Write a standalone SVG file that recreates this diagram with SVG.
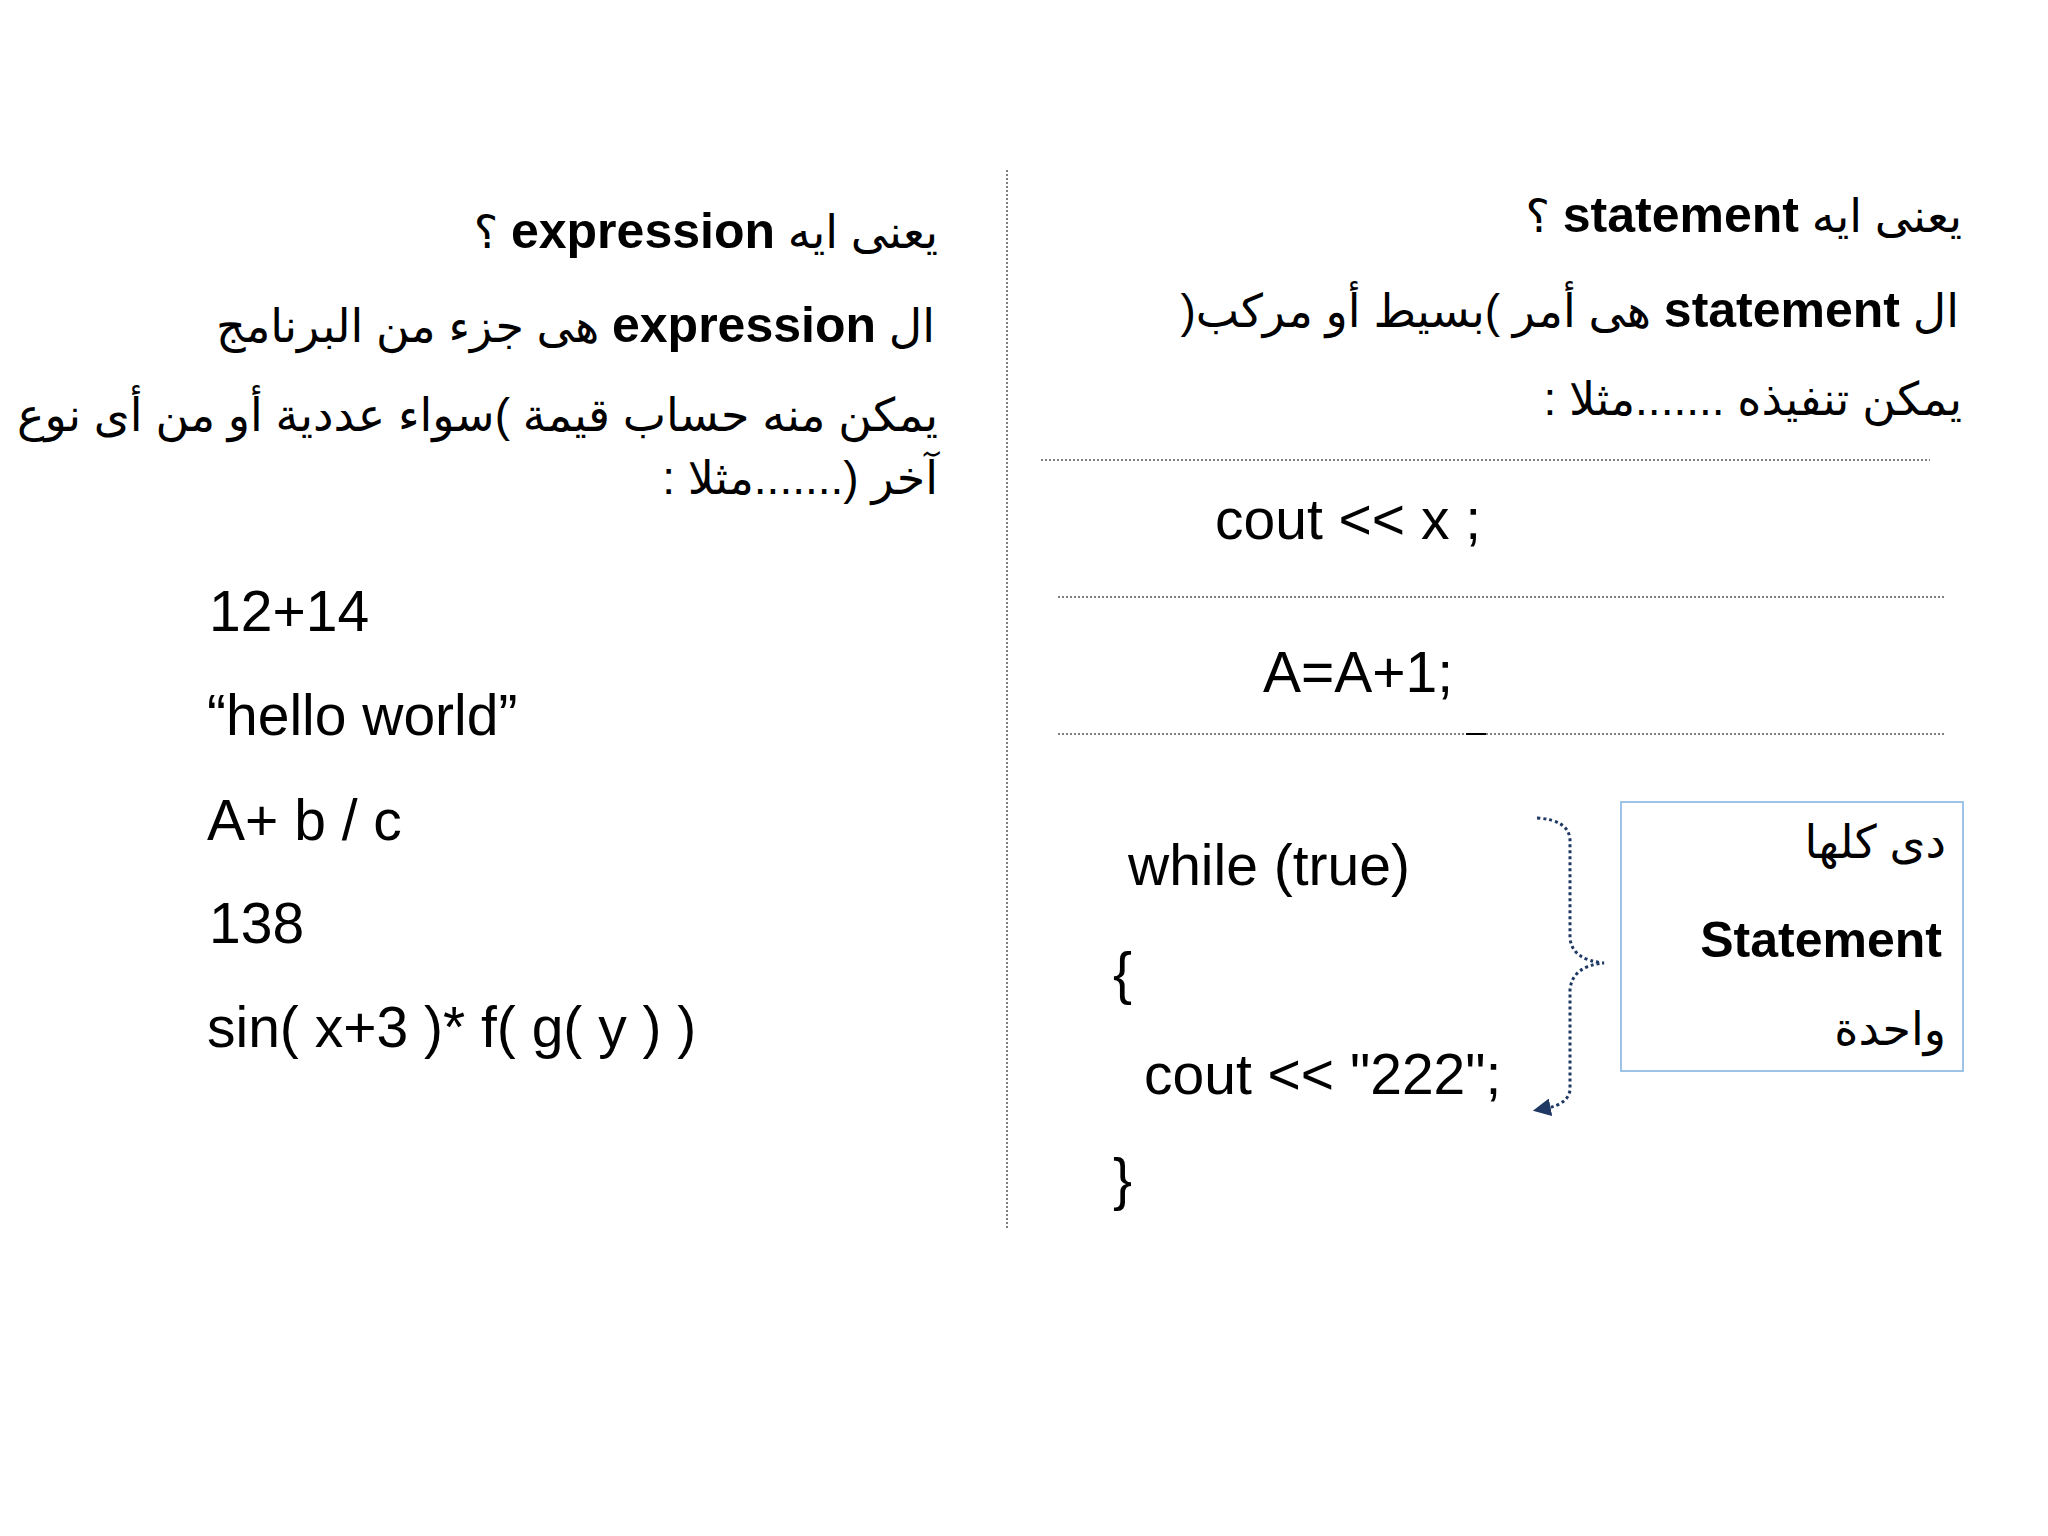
<svg xmlns="http://www.w3.org/2000/svg" width="2048" height="1536" viewBox="0 0 2048 1536">
<style>
.ar{font-family:"Liberation Sans","DejaVu Sans",sans-serif;font-size:46px;fill:#000;direction:rtl}
.b{font-weight:bold}
.code{font-family:"Liberation Sans",Arial,sans-serif;font-size:57px;fill:#000}
.dot{stroke:#555;stroke-width:1.5;stroke-dasharray:2 2;fill:none}
</style>
<defs>
<marker id="ah" viewBox="0 0 10 10" refX="2" refY="5" markerWidth="6" markerHeight="6" orient="auto-start-reverse">
<path d="M0,0 L10,5 L0,10 z" fill="#1f3864"/>
</marker>
</defs>
<rect width="2048" height="1536" fill="#fff"/>
<g id="divider"><line class="dot" x1="1007" y1="170" x2="1007" y2="1228" stroke="#4a6a9a"/></g>
<g id="left">
<text class="ar" x="938" y="248"><tspan>يعنى ايه </tspan><tspan class="b" font-size="50">expression</tspan><tspan>  ؟</tspan></text>
<text class="ar" x="935" y="342"><tspan>ال  </tspan><tspan class="b" font-size="50">expression</tspan><tspan> هى جزء من البرنامج</tspan></text>
<text class="ar" x="938" y="431">يمكن منه حساب قيمة )سواء عددية أو من أى نوع</text>
<text class="ar" x="938" y="494">آخر (.......مثلا :</text>
<text class="code" x="209" y="631">12+14</text>
<text class="code" x="207" y="735">“hello world”</text>
<text class="code" x="207" y="840">A+ b / c</text>
<text class="code" x="209" y="943">138</text>
<text class="code" x="207" y="1047">sin( x+3 )* f( g( y ) )</text>
</g>
<g id="right">
<text class="ar" x="1962" y="232"><tspan>يعنى ايه </tspan><tspan class="b" font-size="50">statement</tspan><tspan> ؟</tspan></text>
<text class="ar" x="1959" y="327"><tspan>ال </tspan><tspan class="b" font-size="50">statement</tspan><tspan>  هى أمر )بسيط أو مركب(</tspan></text>
<text class="ar" x="1962" y="415">يمكن تنفيذه .......مثلا :</text>
<line class="dot" x1="1041" y1="460" x2="1930" y2="460"/>
<text class="code" x="1215" y="539" font-size="52">cout &lt;&lt; x ;</text>
<line class="dot" x1="1058" y1="597" x2="1946" y2="597"/>
<text class="code" x="1263" y="692" font-size="52">A=A+1;</text>
<line class="dot" x1="1058" y1="734" x2="1946" y2="734"/>
<line x1="1466" y1="734" x2="1486" y2="734" stroke="#000" stroke-width="2"/>
<text class="code" x="1128" y="885" font-size="54">while (true)</text>
<text class="code" x="1113" y="993" font-size="54">{</text>
<text class="code" x="1144" y="1094" font-size="54">cout &lt;&lt; "222";</text>
<text class="code" x="1113" y="1199" font-size="54">}</text>
</g>
<g id="connectors">
<path d="M1537,818 Q1569,820 1570,840 L1570,938 Q1572,960 1604,963 Q1572,966 1570,990 L1570,1090 Q1568,1104 1547,1108" fill="none" stroke="#1f3864" stroke-width="3" stroke-dasharray="3 3" marker-end="url(#ah)"/>
</g>
<g id="box">
<rect x="1621" y="802" width="342" height="269" fill="#fff" stroke="#9dc3e6" stroke-width="2"/>
<text class="ar" x="1946" y="858">دى كلها</text>
<text class="b" x="1942" y="957" text-anchor="end" font-family="Liberation Sans,Arial,sans-serif" font-size="50">Statement</text>
<text class="ar" x="1946" y="1045">واحدة</text>
</g>
</svg>
